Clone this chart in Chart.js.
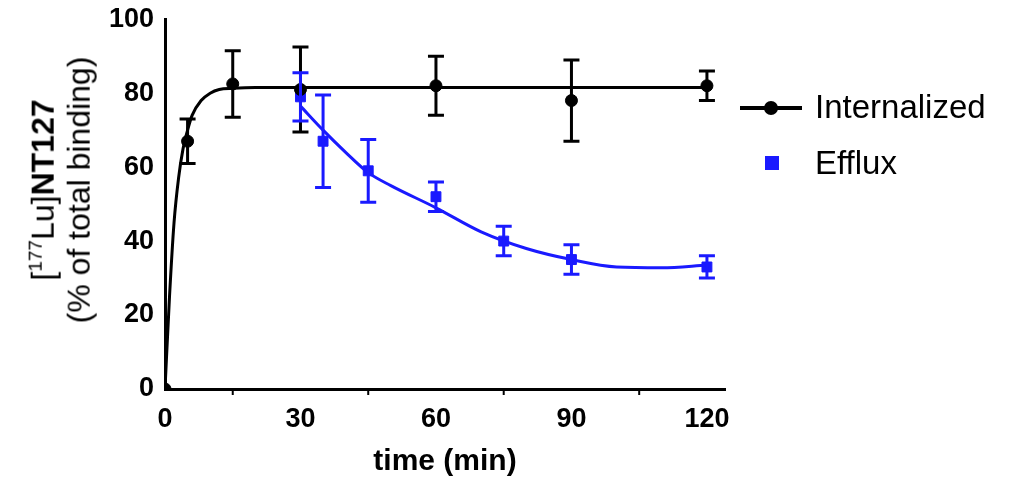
<!DOCTYPE html>
<html><head><meta charset="utf-8">
<script src="https://cdn.jsdelivr.net/npm/chart.js@4"></script>
<style>
body{margin:0;background:#fff;font-family:Arial,"Liberation Sans",sans-serif}
#wrap{position:relative;width:1024px;height:484px}
.lg{position:absolute;font-size:33px;color:#000}
#yt{position:absolute;left:57px;top:190px;transform:translate(-50%,-50%) rotate(-90deg);font-size:32px;text-align:center;line-height:36px;white-space:nowrap}
</style></head><body>
<div id="wrap"><canvas id="c" width="1024" height="484"></canvas>
<div id="yt">[<sup style="font-size:19px">177</sup>Lu]<b>NT127</b><br>(% of total binding)</div>
<div style="position:absolute;left:740px;top:106px;width:62px;height:4px;background:#000"></div>
<div style="position:absolute;left:764px;top:101px;width:14px;height:14px;border-radius:50%;background:#000"></div>
<div class="lg" style="left:815px;top:88px">Internalized</div>
<div style="position:absolute;left:765px;top:156px;width:14px;height:14px;background:#1a1aff"></div>
<div class="lg" style="left:815px;top:144px">Efflux</div>
</div>
<script>
const intTime=[0,5,15,30,60,90,120];
const intVal=[0,67,82.5,81,82,78,82];
const intErr=[0,6,9,11.5,8,11,4];
const effTime=[30,35,45,60,75,90,120];
const effVal=[79,67,59,52,40,35,33];
const effErr=[6.5,12.5,8.5,4,4,4,3];
const intFitT=[0,1,2,3,4,5,6,8,10,12,15,20,30,60,90,120];
const intFitV=[0,25,45,57,65,70,74,78,80,81,81.3,81.5,81.5,81.5,81.5,81.5];
const effFitT=[30,35,40,45,50,60,70,80,90,100,110,120];
const effFitV=[76.5,70,64,58.5,55,49,42.5,38,35,33,32.8,33.5];
const xTicks=[0,30,60,90,120];
const yTicks=[0,20,40,60,80,100];
const blue='#1a1aff';
const pts=(t,v)=>t.map((x,i)=>({x,y:v[i]}));
const errPlugin={id:'err',afterDatasetsDraw(ch){
 const ctx=ch.ctx,xs=ch.scales.x,ys=ch.scales.y;
 ch.data.datasets.forEach(ds=>{ if(!ds.err)return;
  ctx.save();ctx.strokeStyle=ds.borderColor;ctx.lineWidth=3;
  ds.data.forEach((p,i)=>{const e=ds.err[i];if(!e)return;
   const px=xs.getPixelForValue(p.x),y1=ys.getPixelForValue(p.y-e),y2=ys.getPixelForValue(p.y+e);
   ctx.beginPath();ctx.moveTo(px,y1);ctx.lineTo(px,y2);
   ctx.moveTo(px-8,y1);ctx.lineTo(px+8,y1);ctx.moveTo(px-8,y2);ctx.lineTo(px+8,y2);ctx.stroke();});
  ctx.restore();});
 ctx.save();ctx.strokeStyle='#000';ctx.lineWidth=2;
 [15,45,75,105].forEach(v=>{const px=xs.getPixelForValue(v);ctx.beginPath();ctx.moveTo(px,ys.bottom);ctx.lineTo(px,ys.bottom+6);ctx.stroke();});
 ctx.restore();
}};
new Chart(document.getElementById('c'),{type:'scatter',
 data:{datasets:[
  {data:pts(intFitT,intFitV),showLine:true,borderColor:'#000',borderWidth:3,pointRadius:0,cubicInterpolationMode:'monotone'},
  {data:pts(effFitT,effFitV),showLine:true,borderColor:blue,borderWidth:3,pointRadius:0,cubicInterpolationMode:'monotone'},
  {data:pts(intTime,intVal),err:intErr,borderColor:'#000',backgroundColor:'#000',pointRadius:6,pointStyle:'circle'},
  {data:pts(effTime,effVal),err:effErr,borderColor:blue,backgroundColor:blue,pointRadius:7,pointStyle:'rect'}
 ]},
 plugins:[errPlugin],
 options:{responsive:false,animation:false,
  layout:{padding:{left:0,right:299,top:15,bottom:0}},
  plugins:{legend:{display:false},tooltip:{enabled:false}},
  scales:{
   x:{type:'linear',min:0,max:124,afterBuildTicks:s=>{s.ticks=xTicks.map(v=>({value:v}))},
    afterFit:s=>{s.height=95},
    grid:{display:false,drawTicks:true,tickLength:8,tickColor:'#000',tickWidth:2},
    border:{color:'#000',width:3},
    ticks:{color:'#000',font:{size:27,weight:'bold',family:'Arial'},padding:6,maxRotation:0},
    title:{display:true,text:'time (min)',color:'#000',font:{size:30,weight:'bold',family:'Arial'},padding:{top:4}}},
   y:{min:0,max:100,afterBuildTicks:s=>{s.ticks=yTicks.map(v=>({value:v}))},
    afterFit:s=>{s.width=165},
    grid:{display:false,drawTicks:true,tickLength:8,tickColor:'#000',tickWidth:2},
    border:{color:'#000',width:3},
    ticks:{color:'#000',font:{size:27,weight:'bold',family:'Arial'},padding:3}}
  }}});
</script></body></html>
